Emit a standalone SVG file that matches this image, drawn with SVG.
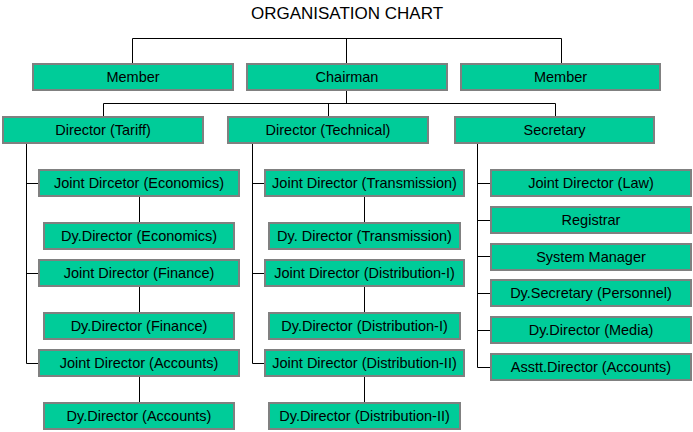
<svg xmlns="http://www.w3.org/2000/svg" width="693" height="432" viewBox="0 0 693 432">
<style>
.box{fill:#00CC99;stroke:#808080;stroke-width:2}
.lbl{font-family:"Liberation Sans",Arial,sans-serif;font-size:14.5px;fill:#000;text-anchor:middle}
.title{font-family:"Liberation Sans",Arial,sans-serif;font-size:17px;fill:#000;text-anchor:middle}
.con{stroke:#000;stroke-width:1;fill:none}
</style>
<rect width="693" height="432" fill="#fff"/>
<text class="title" x="347" y="19">ORGANISATION CHART</text>
<g id="connectors" class="con">
<path d="M132.5 63V38.5H561.5V63M346.5 38.5V63"/>
<path d="M346.5 91V103.5M103.5 116V103.5H555.5V116M328.5 103.5V116"/>
<path d="M26.5 144V363.5H38M26.5 183.5H38M26.5 273.5H38"/>
<path d="M139.5 197V222M139.5 287V312M139.5 377V402"/>
<path d="M252.5 144V363.5H264M252.5 183.5H264M252.5 273.5H264"/>
<path d="M364.5 197V222M364.5 287V312M364.5 377V402"/>
<path d="M477.5 144V367.5H490M477.5 183.5H490M477.5 220.5H490M477.5 256.5H490M477.5 293.5H490M477.5 330.5H490"/>
</g>
<g id="member1"><rect class="box" x="33" y="64" width="200" height="26"/><text class="lbl" x="133" y="82">Member</text></g>
<g id="chairman"><rect class="box" x="247" y="64" width="200" height="26"/><text class="lbl" x="347" y="82">Chairman</text></g>
<g id="member2"><rect class="box" x="461" y="64" width="199" height="26"/><text class="lbl" x="560.5" y="82">Member</text></g>
<g id="dir-tariff"><rect class="box" x="3" y="117" width="200" height="26"/><text class="lbl" x="103" y="135">Director (Tariff)</text></g>
<g id="dir-technical"><rect class="box" x="228" y="117" width="200" height="26"/><text class="lbl" x="328" y="135">Director (Technical)</text></g>
<g id="secretary"><rect class="box" x="455" y="117" width="199" height="26"/><text class="lbl" x="554.5" y="135">Secretary</text></g>
<g id="jd-economics"><rect class="box" x="39" y="170" width="200" height="26"/><text class="lbl" x="139" y="188">Joint Dircetor (Economics)</text></g>
<g id="dy-economics"><rect class="box" x="44" y="223" width="190" height="26"/><text class="lbl" x="139" y="241">Dy.Director (Economics)</text></g>
<g id="jd-finance"><rect class="box" x="39" y="260" width="200" height="26"/><text class="lbl" x="139" y="278">Joint Director (Finance)</text></g>
<g id="dy-finance"><rect class="box" x="44" y="313" width="190" height="26"/><text class="lbl" x="139" y="331">Dy.Director (Finance)</text></g>
<g id="jd-accounts"><rect class="box" x="39" y="350" width="200" height="26"/><text class="lbl" x="139" y="368">Joint Director (Accounts)</text></g>
<g id="dy-accounts"><rect class="box" x="44" y="403" width="190" height="26"/><text class="lbl" x="139" y="421">Dy.Director (Accounts)</text></g>
<g id="jd-transmission"><rect class="box" x="265" y="170" width="199" height="26"/><text class="lbl" x="364.5" y="188">Joint Director (Transmission)</text></g>
<g id="dy-transmission"><rect class="box" x="269" y="223" width="191" height="26"/><text class="lbl" x="364.5" y="241">Dy. Director (Transmission)</text></g>
<g id="jd-dist1"><rect class="box" x="265" y="260" width="199" height="26"/><text class="lbl" x="364.5" y="278">Joint Director (Distribution-I)</text></g>
<g id="dy-dist1"><rect class="box" x="269" y="313" width="191" height="26"/><text class="lbl" x="364.5" y="331">Dy.Director (Distribution-I)</text></g>
<g id="jd-dist2"><rect class="box" x="265" y="350" width="199" height="26"/><text class="lbl" x="364.5" y="368">Joint Director (Distribution-II)</text></g>
<g id="dy-dist2"><rect class="box" x="269" y="403" width="191" height="26"/><text class="lbl" x="364.5" y="421">Dy.Director (Distribution-II)</text></g>
<g id="jd-law"><rect class="box" x="491" y="170" width="200" height="26"/><text class="lbl" x="591" y="188">Joint Director (Law)</text></g>
<g id="registrar"><rect class="box" x="491" y="207" width="200" height="26"/><text class="lbl" x="591" y="225">Registrar</text></g>
<g id="sysmgr"><rect class="box" x="491" y="244" width="200" height="26"/><text class="lbl" x="591" y="262">System Manager</text></g>
<g id="dysec"><rect class="box" x="491" y="280" width="200" height="26"/><text class="lbl" x="591" y="298">Dy.Secretary (Personnel)</text></g>
<g id="dy-media"><rect class="box" x="491" y="317" width="200" height="26"/><text class="lbl" x="591" y="335">Dy.Director (Media)</text></g>
<g id="asstt"><rect class="box" x="491" y="354" width="200" height="26"/><text class="lbl" x="591" y="372">Asstt.Director (Accounts)</text></g>
</svg>
